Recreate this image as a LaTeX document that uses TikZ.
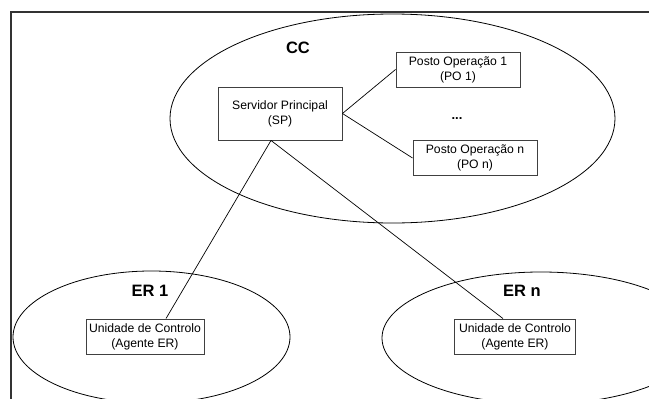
\documentclass[tikz,border=0pt]{standalone}
\usepackage{fontspec}
\setmainfont{Liberation Sans}
\usetikzlibrary{shapes.geometric}
\begin{document}
\begin{tikzpicture}[x=1pt,y=-1pt,
  region/.style={draw=black, line width=0.8pt},
  unitbox/.style={draw=black!75, line width=0.9pt, rectangle, inner sep=0pt,
    align=center, font=\fontsize{12.2}{15}\selectfont},
  zonelabel/.style={font=\fontsize{16.5}{18}\selectfont\bfseries, inner sep=0pt},
  link/.style={draw=black, line width=0.7pt}]
  \fill[white] (0,0) rectangle (649,399);
  \useasboundingbox (0,0) rectangle (649,399);
  \begin{scope}
  \clip (0,0) rectangle (649,399);
  % page frame (only top and left edges fall inside the page)
  \draw[line width=1.2pt, black!80] (655,12) -- (11,12) -- (11,405);

  % regions: CC and the two ER sites
  \draw[region] (392.5,118.5) ellipse [x radius=222.5, y radius=104.5];
  \draw[region] (151.5,337) ellipse [x radius=138.5, y radius=66];
  \draw[region] (541,338) ellipse [x radius=159, y radius=66];
  \end{scope}

  % region labels
  \node[zonelabel] (cclabel) at (298,48) {CC};
  \node[zonelabel] (er1label) at (150,291) {ER 1};
  \node[zonelabel] (ernlabel) at (522,291) {ER n};

  % boxes
  \node[unitbox, minimum width=124pt, minimum height=53pt] (sp) at (280,113.5)
    {Servidor Principal\\(SP)};
  \node[unitbox, minimum width=124pt, minimum height=35pt] (po1) at (458,69.5)
    {Posto Operação 1\\(PO 1)};
  \node[unitbox, minimum width=124pt, minimum height=35pt] (pon) at (475,158)
    {Posto Operação n\\(PO n)};
  \node[font=\fontsize{13}{14}\selectfont\bfseries, inner sep=0pt, anchor=base] (dots) at (457,119) {...};
  \node[unitbox, minimum width=118pt, minimum height=35pt] (u1) at (145,336.5)
    {Unidade de Controlo\\(Agente ER)};
  \node[unitbox, minimum width=121pt, minimum height=35pt] (un) at (515,336.5)
    {Unidade de Controlo\\(Agente ER)};

  % connections
  \coordinate (spfoot) at ([xshift=-9pt]sp.south);
  \draw[link] (sp.east) -- (po1.west);
  \draw[link] (sp.east) -- (pon.west);
  \draw[link] (spfoot) -- ([xshift=21pt]u1.north);
  \draw[link] (spfoot) -- ([xshift=-12pt]un.north);
\end{tikzpicture}
\end{document}
